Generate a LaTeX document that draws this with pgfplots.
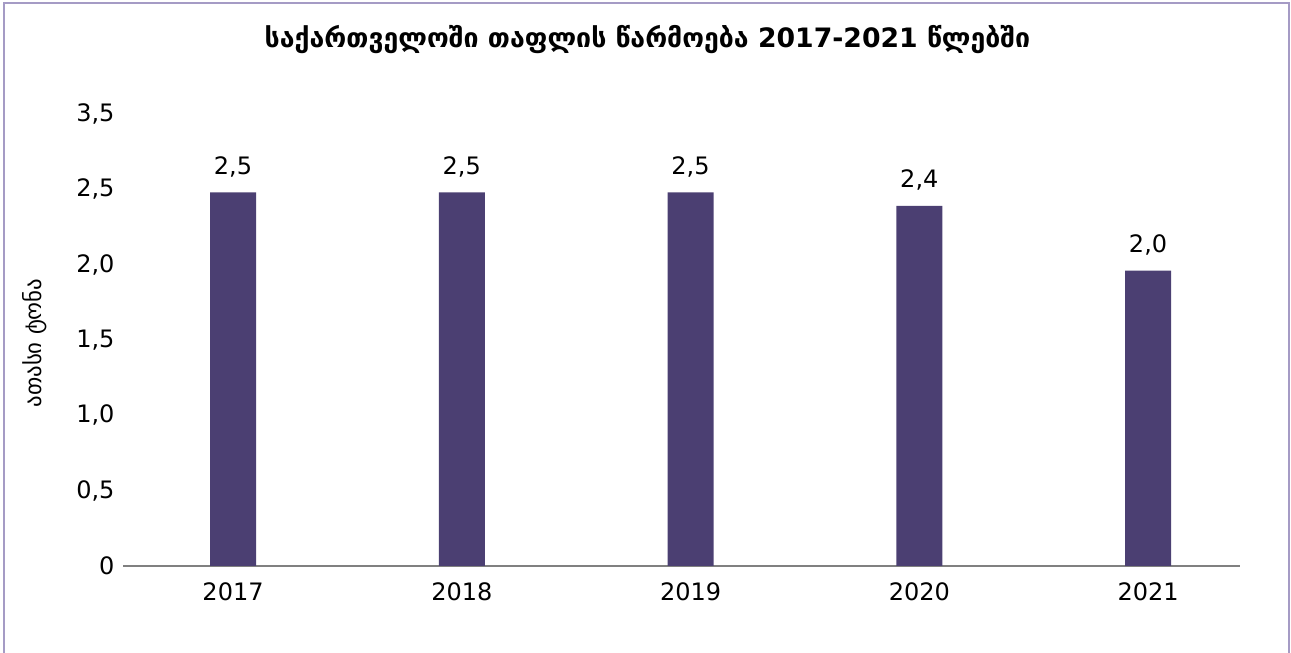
\documentclass[border=0pt]{standalone}
\usepackage{fontspec}
\setmainfont{DejaVu Sans}
\usepackage{pgfplots}
\pgfplotsset{compat=1.18}
\definecolor{barc}{HTML}{4B3F72}
\definecolor{framec}{HTML}{A59BC5}
\begin{document}
\begin{tikzpicture}[x=1pt,y=1pt]
\useasboundingbox (0,0) rectangle (1291,653);
\draw[framec, line width=1.5pt] (4,-5) -- (4,650) -- (1289,650) -- (1289,-5);
\begin{axis}[
  at={(123pt,87pt)}, anchor=south west,
  width=1117pt, height=452pt, scale only axis,
  xmin=-0.481, xmax=4.402, ymin=0, ymax=3,
  axis lines*=left,
  y axis line style={draw=none},
  x axis line style={draw=gray, line width=1.5pt},
  major tick length=0pt,
  xtick={0,1,2,3,4}, xticklabels={2017,2018,2019,2020,2021},
  ytick={0,0.5,1,1.5,2,2.5,3},
  yticklabels={0,{0,5},{1,0},{1,5},{2,0},{2,5},{3,5}},
  tick label style={font=\fontsize{24}{28}\selectfont},
  /pgf/number format/assume math mode=true,
  xticklabel style={yshift=-13pt},
  yticklabel style={xshift=-5pt},
  clip=false,
]
\addplot[ybar, bar width=46pt, fill=barc, draw=none,
  nodes near coords={\pgfmathprintnumber[fixed,fixed zerofill,precision=1,use comma]{\pgfplotspointmeta}},
  nodes near coords style={font=\fontsize{24}{28}\selectfont, black, yshift=12pt},
] coordinates {(0,2.48) (1,2.48) (2,2.48) (3,2.39) (4,1.96)};
\end{axis}
\node[font=\bfseries\fontsize{26.7}{31}\selectfont] at (647.5,613) {საქართველოში თაფლის წარმოება 2017-2021 წლებში};
\node[rotate=90, font=\fontsize{22.8}{27}\selectfont] at (35,310) {ათასი ტონა};
\end{tikzpicture}
\end{document}
